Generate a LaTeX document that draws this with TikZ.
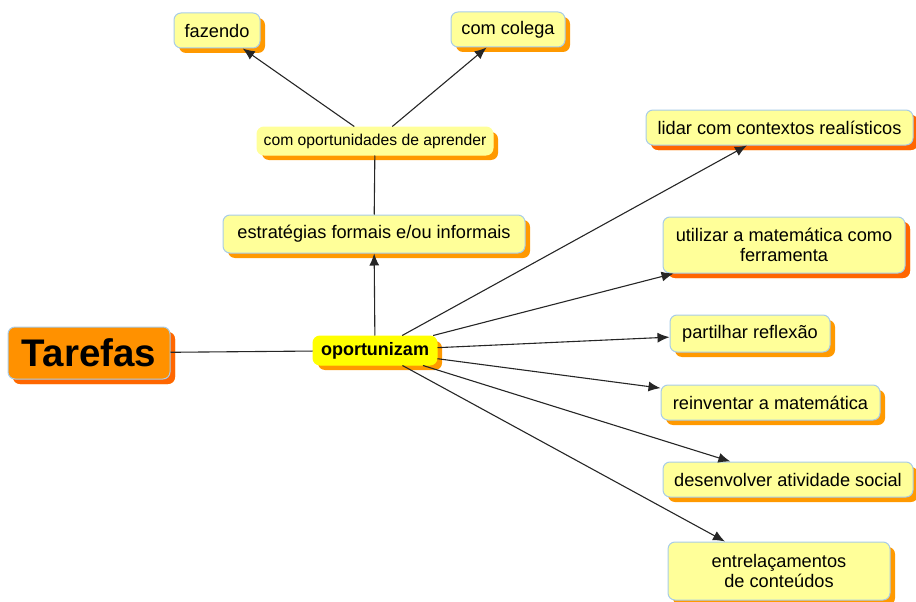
\documentclass[tikz,border=0pt]{standalone}
\usepackage{fontspec}
\setmainfont{Liberation Sans}
\usetikzlibrary{shadows,arrows.meta}
\definecolor{boxfill}{HTML}{FFFF99}
\definecolor{boxline}{HTML}{A8CCE8}
\definecolor{shorange}{HTML}{FF9900}
\definecolor{shred}{HTML}{FF6600}
\definecolor{tarefill}{HTML}{FF9100}
\definecolor{opfill}{HTML}{FFFF00}
\begin{document}
\begin{tikzpicture}[x=1pt,y=-1pt,
  concept/.style={draw=boxline, line width=1pt, fill=boxfill, rounded corners=7pt,
    font=\fontsize{18.2}{20.5}\selectfont, align=center, inner sep=0pt,
    drop shadow={shadow xshift=5pt, shadow yshift=-5pt, fill=shorange, opacity=1, draw=none}},
  redshadow/.style={drop shadow={shadow xshift=5pt, shadow yshift=-5pt, fill=shred, opacity=1, draw=none}},
  sz/.style 2 args={minimum width=#1pt, minimum height=#2pt},
  conn/.style={line width=1.1pt, draw=black!85},
  arr/.style={conn, -{Latex[length=12pt,width=10pt]}}]
\useasboundingbox (0,0) rectangle (916,602);
\node[concept, redshadow, fill=tarefill, sz={162}{52}, font=\fontsize{38.5}{40}\selectfont\bfseries] (tar) at (89,353) {Tarefas};
\node[concept, fill=opfill, draw=opfill, sz={124}{29}, font=\fontsize{18}{20}\selectfont\bfseries] (op) at (375,350.5) {oportunizam};
\node[concept, sz={86}{35}] (faz) at (217,30.5) {fazendo};
\node[concept, sz={114}{35}] (col) at (508,29.5) {com colega};
\node[concept, draw=boxfill, sz={236}{28}, font=\fontsize{15.7}{18}\selectfont] (comop) at (375,141) {com oportunidades de aprender};
\node[concept, sz={302}{38}] (estr) at (374,234) {estratégias formais e/ou informais};
\node[concept, redshadow, sz={267}{35}] (lid) at (779.5,127.5) {lidar com contextos realísticos};
\node[concept, redshadow, sz={242}{56}] (uti) at (784,245) {utilizar a matemática como\\ferramenta};
\node[concept, sz={160}{37}] (par) at (750,333.5) {partilhar reflexão};
\node[concept, sz={219}{35}] (rei) at (770.5,402.5) {reinventar a matemática};
\node[concept, sz={250}{35}] (des) at (788,479.5) {desenvolver atividade social};
\node[concept, sz={222}{58}] (ent) at (779,571) {entrelaçamentos\\de conteúdos};
\draw[conn] (tar) -- (op);
\draw[arr] (op) -- (estr);
\draw[conn] (estr) -- (comop);
\draw[arr] (comop) -- (faz);
\draw[arr] (comop) -- (col);
\draw[arr] (op) -- (lid);
\draw[arr] (op) -- (uti);
\draw[arr] (op) -- (par);
\draw[arr] (op) -- (rei);
\draw[arr] (op) -- (des);
\draw[arr] (op) -- (ent);
\end{tikzpicture}
\end{document}
